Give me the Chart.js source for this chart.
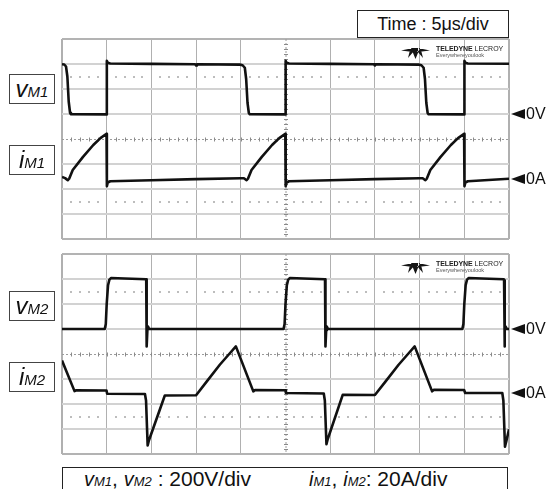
<!DOCTYPE html>
<html>
<head>
<meta charset="utf-8">
<script src="https://cdn.jsdelivr.net/npm/chart.js@4.4.1/dist/chart.umd.min.js"></script>
<style>
    body {
        margin: 0;
        width: 548px;
        height: 489px;
        position: relative;
        overflow: hidden;
        background: #fff;
        color: #111;
        font-family: "Liberation Sans", Arial, sans-serif;
    }
    canvas { position: absolute; left: 0; }
    #top-scope { top: 30px; }
    #bottom-scope { top: 245px; }

    .tag {
        position: absolute;
        left: 9px;
        width: 46px;
        height: 30px;
        box-sizing: border-box;
        border: 1px solid #444;
        background: #fff;
        font-style: italic;
        text-align: center;
        line-height: 28px;
        white-space: nowrap;
    }
    .tag .sym { font-size: 24px; }
    .tag .sub { font-size: 15px; }

    .box {
        position: absolute;
        box-sizing: border-box;
        border: 1px solid #222;
        background: #fff;
        white-space: nowrap;
    }
    #time-box { left: 357px; top: 10px; width: 152px; height: 28px; font-size: 18px; line-height: 26px; text-align: center; }
    #scale-box { left: 62px; top: 467px; width: 446px; height: 26px; font-size: 21px; line-height: 22px; }
    #scale-box span.part { position: absolute; top: 0; }
    #scale-box i { font-size: 20px; }
    #scale-box i small { font-size: 13px; }

    .marker {
        position: absolute;
        height: 18px;
        display: flex;
        align-items: center;
        font-size: 16px;
    }
    .marker .arrow {
        width: 0;
        height: 0;
        border-top: 5px solid transparent;
        border-bottom: 5px solid transparent;
        border-right: 14px solid #111;
        margin-right: 1px;
    }
    .logo {
        position: absolute;
        left: 436px;
        font-size: 7px;
        line-height: 6px;
        color: #222;
    }
    .logo b { letter-spacing: -0.1px; }
    .logo .slogan { font-size: 5.5px; color: #555; }
</style>
</head>
<body>
<canvas id="top-scope" width="548" height="215"></canvas>
<canvas id="bottom-scope" width="548" height="215"></canvas>

<div class="tag" style="top:74px"><span class="sym">v</span><span class="sub">M1</span></div>
<div class="tag" style="top:145px"><span class="sym">i</span><span class="sub">M1</span></div>
<div class="tag" style="top:291px"><span class="sym">v</span><span class="sub">M2</span></div>
<div class="tag" style="top:362px"><span class="sym">i</span><span class="sub">M2</span></div>

<div class="box" id="time-box">Time : 5μs/div</div>
<div class="box" id="scale-box">
    <span class="part" style="left:21px"><i>v<small>M1</small></i>, <i>v<small>M2</small></i> : 200V/div</span>
    <span class="part" style="left:246px"><i>i<small>M1</small></i>, <i>i<small>M2</small></i>: 20A/div</span>
</div>

<div class="marker" id="top-volt-marker"><span class="arrow"></span>0V</div>
<div class="marker" id="top-amp-marker"><span class="arrow"></span>0A</div>
<div class="marker" id="bottom-volt-marker"><span class="arrow"></span>0V</div>
<div class="marker" id="bottom-amp-marker"><span class="arrow"></span>0A</div>

<div class="logo" style="top:46px"><b>TELEDYNE</b> LECROY<br><span class="slogan">Everywhereyoulook</span></div>
<div class="logo" style="top:261px"><b>TELEDYNE</b> LECROY<br><span class="slogan">Everywhereyoulook</span></div>

<script>
// time in microseconds, 5 us per division, 10 divisions
const vm1Time = [0, 0.25, 0.45, 0.6, 0.75, 0.9, 1.0, 4.98, 5.0, 5.03, 5.12, 5.4, 10, 14.9, 15, 15.1,
    19.9, 20.2, 20.45, 20.6, 20.75, 20.9, 21.0, 24.98, 25.0, 25.03, 25.12, 25.4, 30, 34.9, 35, 35.1,
    39.9, 40.2, 40.45, 40.6, 40.75, 40.9, 41.0, 44.98, 45.0, 45.03, 45.12, 45.4, 50];
const vm1Volts = [398, 396, 380, 300, 100, 10, -2, -3, 0, 425, 410, 404, 401, 398, 388, 398,
    395, 390, 370, 280, 90, 8, -2, -3, 0, 425, 410, 404, 401, 398, 388, 398,
    395, 390, 370, 280, 90, 8, -2, -3, 0, 425, 410, 404, 402];

const im1Time = [0, 0.35, 0.65, 0.8, 1.2, 2.35, 3.5, 4.3, 4.98, 5.02, 5.12, 5.4, 10, 15, 20,
    20.35, 20.65, 20.8, 21.2, 22.35, 23.5, 24.3, 24.98, 25.02, 25.12, 25.4, 30, 35, 40,
    40.35, 40.65, 40.8, 41.2, 42.35, 43.5, 44.3, 44.98, 45.02, 45.12, 45.4, 50];
const im1Amps = [1.5, 0.5, -1.2, 0, 7, 17.5, 27, 32.5, 36, -6, -3, -2, -1.2, -0.3, 0.4,
    0.4, -1.2, 0, 7, 17.5, 27, 32.5, 36, -6, -3, -2, -1.2, -0.3, 0.4,
    0.4, -1.2, 0, 7, 17.5, 27, 32.5, 36, -6, -3, -2, 0];

const vm2Time = [0, 4.78, 4.9, 5.0, 5.15, 5.3, 5.5, 7, 9.42, 9.45, 9.49, 9.55, 9.62, 9.75,
    24.78, 24.9, 25.0, 25.15, 25.3, 25.5, 27, 29.42, 29.45, 29.49, 29.55, 29.62, 29.75,
    44.78, 44.9, 45.0, 45.15, 45.3, 45.5, 47, 49.42, 49.45, 49.49, 49.55, 49.62, 49.75, 50];
const vm2Volts = [0, 0, 40, 200, 350, 395, 408, 404, 398, 390, -140, -10, 20, 0,
    0, 40, 200, 350, 395, 408, 404, 398, 390, -140, -10, 20, 0,
    0, 40, 200, 350, 395, 408, 404, 398, 390, -140, -10, 20, 0, 0];

const im2Time = [0, 1.4, 1.6, 4.98, 5.05, 9.28, 9.4, 9.58, 9.72, 11.5,
    15.0, 16.2, 17.65, 18.8, 19.45, 21.4, 21.6, 24.98, 25.05, 29.28, 29.4, 29.58, 29.72, 31.4,
    35.0, 36.2, 37.65, 38.8, 39.45, 41.4, 41.6, 44.98, 45.1, 49.25, 49.37, 49.55, 49.72, 50];
const im2Amps = [26, 1.5, 2.2, 2.0, -0.6, -0.8, -6, -42, -38, -2,
    -1.8, 9.3, 22.6, 32, 37.3, 1.3, 2.4, 2.2, 0, -0.4, -6, -41, -37, -1.5,
    -1.6, 9.3, 22.6, 32, 37.3, 1.3, 2.6, 2.4, 0, 0, -6, -43, -38, -29];

// 200 V/div with 0 V one division above centre, 20 A/div
const VOLT_MIN = -1000;
const VOLT_MAX = 600;
const VOLT_STEP = 200;
const CENTER_VOLT = -200;
const TIME_MAX = 50;
const TIME_STEP = 5;
const CENTER_TIME = 25;
const DOTTED_LEVELS = [300, -700];

const ScopeScreen = {
    charts: {},

    init() {
        this.charts.top = this.buildPanel('top-scope', {
            voltTrace: this.points(vm1Time, vm1Volts),
            ampTrace: this.points(im1Time, im1Amps),
            ampRange: [-48.2, 111.8],
            markers: ['top-volt-marker', 'top-amp-marker'],
        });
        this.charts.bottom = this.buildPanel('bottom-scope', {
            voltTrace: this.points(vm2Time, vm2Volts),
            ampTrace: this.points(im2Time, im2Amps),
            ampRange: [-48.8, 111.2],
            markers: ['bottom-volt-marker', 'bottom-amp-marker'],
        });
    },

    points(times, values) {
        return times.map((t, i) => ({ x: t, y: values[i] }));
    },

    traceStyle(data, axisId) {
        return {
            data,
            yAxisID: axisId,
            borderColor: '#111',
            borderWidth: 2.6,
            borderJoinStyle: 'round',
            pointRadius: 0,
            tension: 0,
            fill: false,
        };
    },

    buildPanel(canvasId, panel) {
        const canvas = document.getElementById(canvasId);
        const edgeWidth = ctx => (ctx.index === 0 || ctx.index === ctx.scale.ticks.length - 1 ? 2 : 1);

        return new Chart(canvas, {
            type: 'line',
            data: {
                datasets: [
                    this.traceStyle(panel.voltTrace, 'yV'),
                    this.traceStyle(panel.ampTrace, 'yI'),
                ],
            },
            options: {
                responsive: false,
                animation: false,
                devicePixelRatio: 1,
                layout: { padding: { left: 62, right: 39, top: 9, bottom: 6 } },
                plugins: { legend: { display: false }, tooltip: { enabled: false } },
                scales: {
                    x: {
                        type: 'linear',
                        min: 0,
                        max: TIME_MAX,
                        ticks: { display: false, stepSize: TIME_STEP },
                        border: { display: false },
                        grid: {
                            drawTicks: false,
                            lineWidth: edgeWidth,
                            color: ctx => (ctx.tick && ctx.tick.value === CENTER_TIME ? 'rgba(0,0,0,0)' : '#b0b0b0'),
                        },
                    },
                    yV: {
                        type: 'linear',
                        position: 'left',
                        min: VOLT_MIN,
                        max: VOLT_MAX,
                        ticks: { display: false, stepSize: VOLT_STEP },
                        border: { display: false },
                        grid: {
                            drawTicks: false,
                            lineWidth: 2,
                            color: ctx => {
                                if (!ctx.tick) {
                                    return '#cccccc';
                                }
                                if (ctx.tick.value === CENTER_VOLT) {
                                    return 'rgba(0,0,0,0)';
                                }
                                if (ctx.index === 0 || ctx.index === ctx.scale.ticks.length - 1) {
                                    return '#b3b3b3';
                                }
                                return '#d2d2d2';
                            },
                        },
                    },
                    yI: {
                        type: 'linear',
                        display: false,
                        min: panel.ampRange[0],
                        max: panel.ampRange[1],
                    },
                },
            },
            plugins: [{
                id: 'scopeGrid',
                beforeDatasetsDraw: chart => this.drawCenterLines(chart),
                afterDraw: chart => {
                    this.drawLogoMark(chart);
                    this.placeMarkers(chart, panel.markers);
                },
            }],
        });
    },

    drawCenterLines(chart) {
        const { ctx, chartArea: area, scales } = chart;
        const midX = scales.x.getPixelForValue(CENTER_TIME);
        const midY = scales.yV.getPixelForValue(CENTER_VOLT);

        ctx.save();
        ctx.strokeStyle = '#9c9c9c';
        ctx.lineWidth = 1;
        ctx.setLineDash([2, 2]);
        ctx.beginPath();
        ctx.moveTo(area.left, midY + 0.5);
        ctx.lineTo(area.right, midY + 0.5);
        ctx.moveTo(midX + 0.5, area.top);
        ctx.lineTo(midX + 0.5, area.bottom);
        ctx.stroke();
        ctx.setLineDash([]);

        ctx.strokeStyle = '#8a8a8a';
        ctx.beginPath();
        for (let t = 1; t < TIME_MAX; t++) {
            const px = Math.round(scales.x.getPixelForValue(t)) + 0.5;
            ctx.moveTo(px, midY - 1.5);
            ctx.lineTo(px, midY + 2.5);
        }
        for (let v = VOLT_MIN + 40; v < VOLT_MAX; v += 40) {
            const py = Math.round(scales.yV.getPixelForValue(v)) + 0.5;
            ctx.moveTo(midX - 1.5, py);
            ctx.lineTo(midX + 2.5, py);
        }
        ctx.stroke();

        ctx.fillStyle = '#bdbdbd';
        DOTTED_LEVELS.forEach(level => {
            const py = scales.yV.getPixelForValue(level);
            for (let t = 1; t < TIME_MAX; t++) {
                if (t % TIME_STEP === 0) {
                    continue;
                }
                const px = scales.x.getPixelForValue(t);
                ctx.fillRect(Math.round(px) - 1, Math.round(py) - 1, 2, 2);
            }
        });
        ctx.restore();
    },

    drawLogoMark(chart) {
        const { ctx, chartArea: area } = chart;
        const x0 = area.right - 108;
        const y0 = area.top + 8;

        ctx.save();
        ctx.fillStyle = '#151515';
        ctx.beginPath();
        // wings
        ctx.moveTo(x0, y0 + 3.5);
        ctx.lineTo(x0 + 12, y0 + 1);
        ctx.lineTo(x0 + 12, y0 + 5);
        ctx.closePath();
        ctx.moveTo(x0 + 29, y0 + 3.5);
        ctx.lineTo(x0 + 17, y0 + 1);
        ctx.lineTo(x0 + 17, y0 + 5);
        ctx.closePath();
        // centre fan
        ctx.moveTo(x0 + 10, y0 + 1);
        ctx.lineTo(x0 + 19, y0 + 1);
        ctx.lineTo(x0 + 14.5, y0 + 12);
        ctx.closePath();
        ctx.moveTo(x0 + 9, y0 + 3);
        ctx.lineTo(x0 + 13, y0 + 4);
        ctx.lineTo(x0 + 7, y0 + 11);
        ctx.closePath();
        ctx.moveTo(x0 + 20, y0 + 3);
        ctx.lineTo(x0 + 16, y0 + 4);
        ctx.lineTo(x0 + 22, y0 + 11);
        ctx.closePath();
        ctx.fill();
        ctx.restore();
    },

    placeMarkers(chart, markerIds) {
        const { chartArea: area, scales } = chart;
        const top = chart.canvas.offsetTop;
        const levels = [scales.yV.getPixelForValue(0), scales.yI.getPixelForValue(0)];

        markerIds.forEach((id, i) => {
            const marker = document.getElementById(id);
            marker.style.left = `${area.right + 2}px`;
            marker.style.top = `${top + levels[i] - 9}px`;
        });
    },
};

ScopeScreen.init();
</script>
</body>
</html>
